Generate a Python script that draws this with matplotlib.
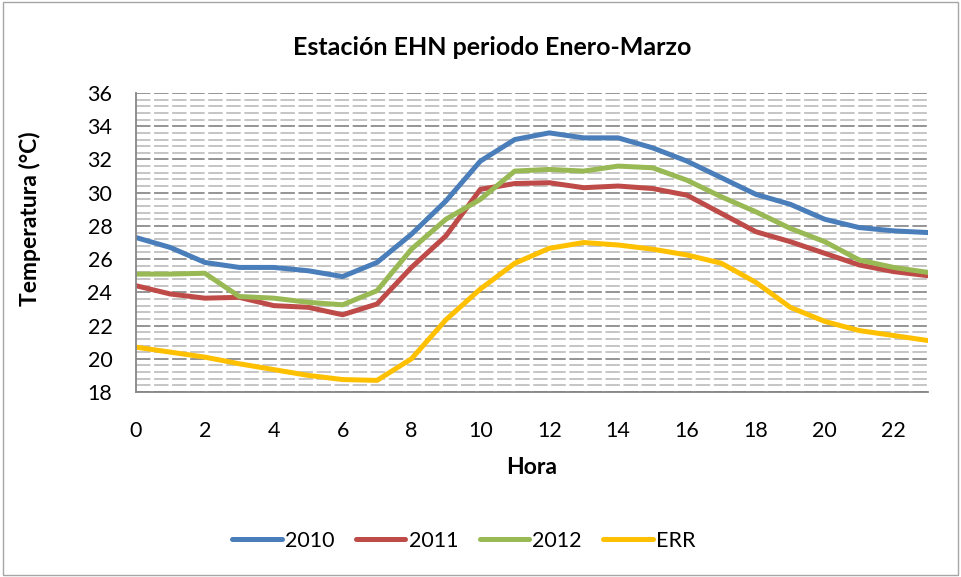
import matplotlib.pyplot as plt
from matplotlib.patches import Rectangle
from matplotlib.ticker import MultipleLocator

# hourly mean temperature (°C)
hours = list(range(24))
t_2010 = [27.3, 26.7, 25.8, 25.5, 25.5, 25.3, 24.95, 25.8, 27.5, 29.5, 31.9, 33.2,
          33.6, 33.3, 33.3, 32.7, 31.9, 30.9, 29.9, 29.3, 28.4, 27.9, 27.7, 27.6]
t_2011 = [24.4, 23.9, 23.65, 23.7, 23.2, 23.1, 22.65, 23.3, 25.5, 27.4, 30.2, 30.55,
          30.6, 30.3, 30.4, 30.25, 29.85, 28.75, 27.65, 27.05, 26.35, 25.65, 25.25, 25.0]
t_2012 = [25.1, 25.1, 25.15, 23.75, 23.65, 23.4, 23.25, 24.1, 26.6, 28.4, 29.6, 31.3,
          31.4, 31.3, 31.6, 31.5, 30.75, 29.75, 28.85, 27.85, 27.05, 25.95, 25.5, 25.2]
t_err = [20.7, 20.4, 20.1, 19.7, 19.35, 19.0, 18.75, 18.7, 20.0, 22.35, 24.2, 25.75,
         26.65, 27.0, 26.85, 26.6, 26.25, 25.75, 24.6, 23.1, 22.25, 21.7, 21.4, 21.1]

series = [("2010", t_2010, "#4A7EBB"),
          ("2011", t_2011, "#BE4B48"),
          ("2012", t_2012, "#98B954"),
          ("ERR", t_err, "#FFC000")]

plt.rcParams["font.family"] = ["Lato", "DejaVu Sans"]

fig = plt.figure(figsize=(9.61, 5.77), dpi=100)
ax = fig.add_axes([0.1415, 0.3206, 0.8242, 0.5182])

# chart-area border like the Excel frame
fig.patches.append(Rectangle((0.003, 0.003), 0.994, 0.994, transform=fig.transFigure,
                             fill=False, edgecolor="#A6A6A6", linewidth=1.0))

ax.set_xlim(0, 23)
ax.set_ylim(18, 36)
ax.yaxis.set_major_locator(MultipleLocator(2))
ax.yaxis.set_minor_locator(MultipleLocator(0.4))
ax.xaxis.set_major_locator(MultipleLocator(2))

ax.grid(True, which="minor", axis="y", color="#C0C0C0", linestyle=(0, (8, 2)), linewidth=1.3)
ax.grid(True, which="major", axis="y", color="#8C8C8C", linestyle=(0, (8, 2)), linewidth=1.3)
ax.set_axisbelow(True)

for name, vals, color in series:
    ax.plot(hours, vals, color=color, linewidth=3.6, label=name,
            solid_joinstyle="round", solid_capstyle="round")

for side in ("top", "right"):
    ax.spines[side].set_visible(False)
for side in ("left", "bottom"):
    ax.spines[side].set_color("#868686")
    ax.spines[side].set_linewidth(1.3)

ax.tick_params(axis="both", which="major", labelsize=15.5, length=0)
ax.tick_params(axis="y", which="minor", length=0)
ax.tick_params(axis="x", pad=21)
ax.tick_params(axis="y", pad=17)

fig.text(0.512, 0.918, "Estación EHN periodo Enero-Marzo", fontsize=18,
         fontweight="bold", ha="center", va="center")
ax.set_xlabel("Hora", fontsize=16.5, fontweight="bold", va="center")
ax.xaxis.set_label_coords(0.5, -0.251)
ax.set_ylabel("Temperatura (°C)", fontsize=16.5, fontweight="bold", va="center")
ax.yaxis.set_label_coords(-0.134, 0.58)

ax.legend(loc="center", bbox_to_anchor=(0.414, -0.498), ncol=4, frameon=False,
          fontsize=15.5, handlelength=2.3, columnspacing=1.0, handletextpad=0.15)

fig.savefig("out.png", dpi=100, facecolor="white")
